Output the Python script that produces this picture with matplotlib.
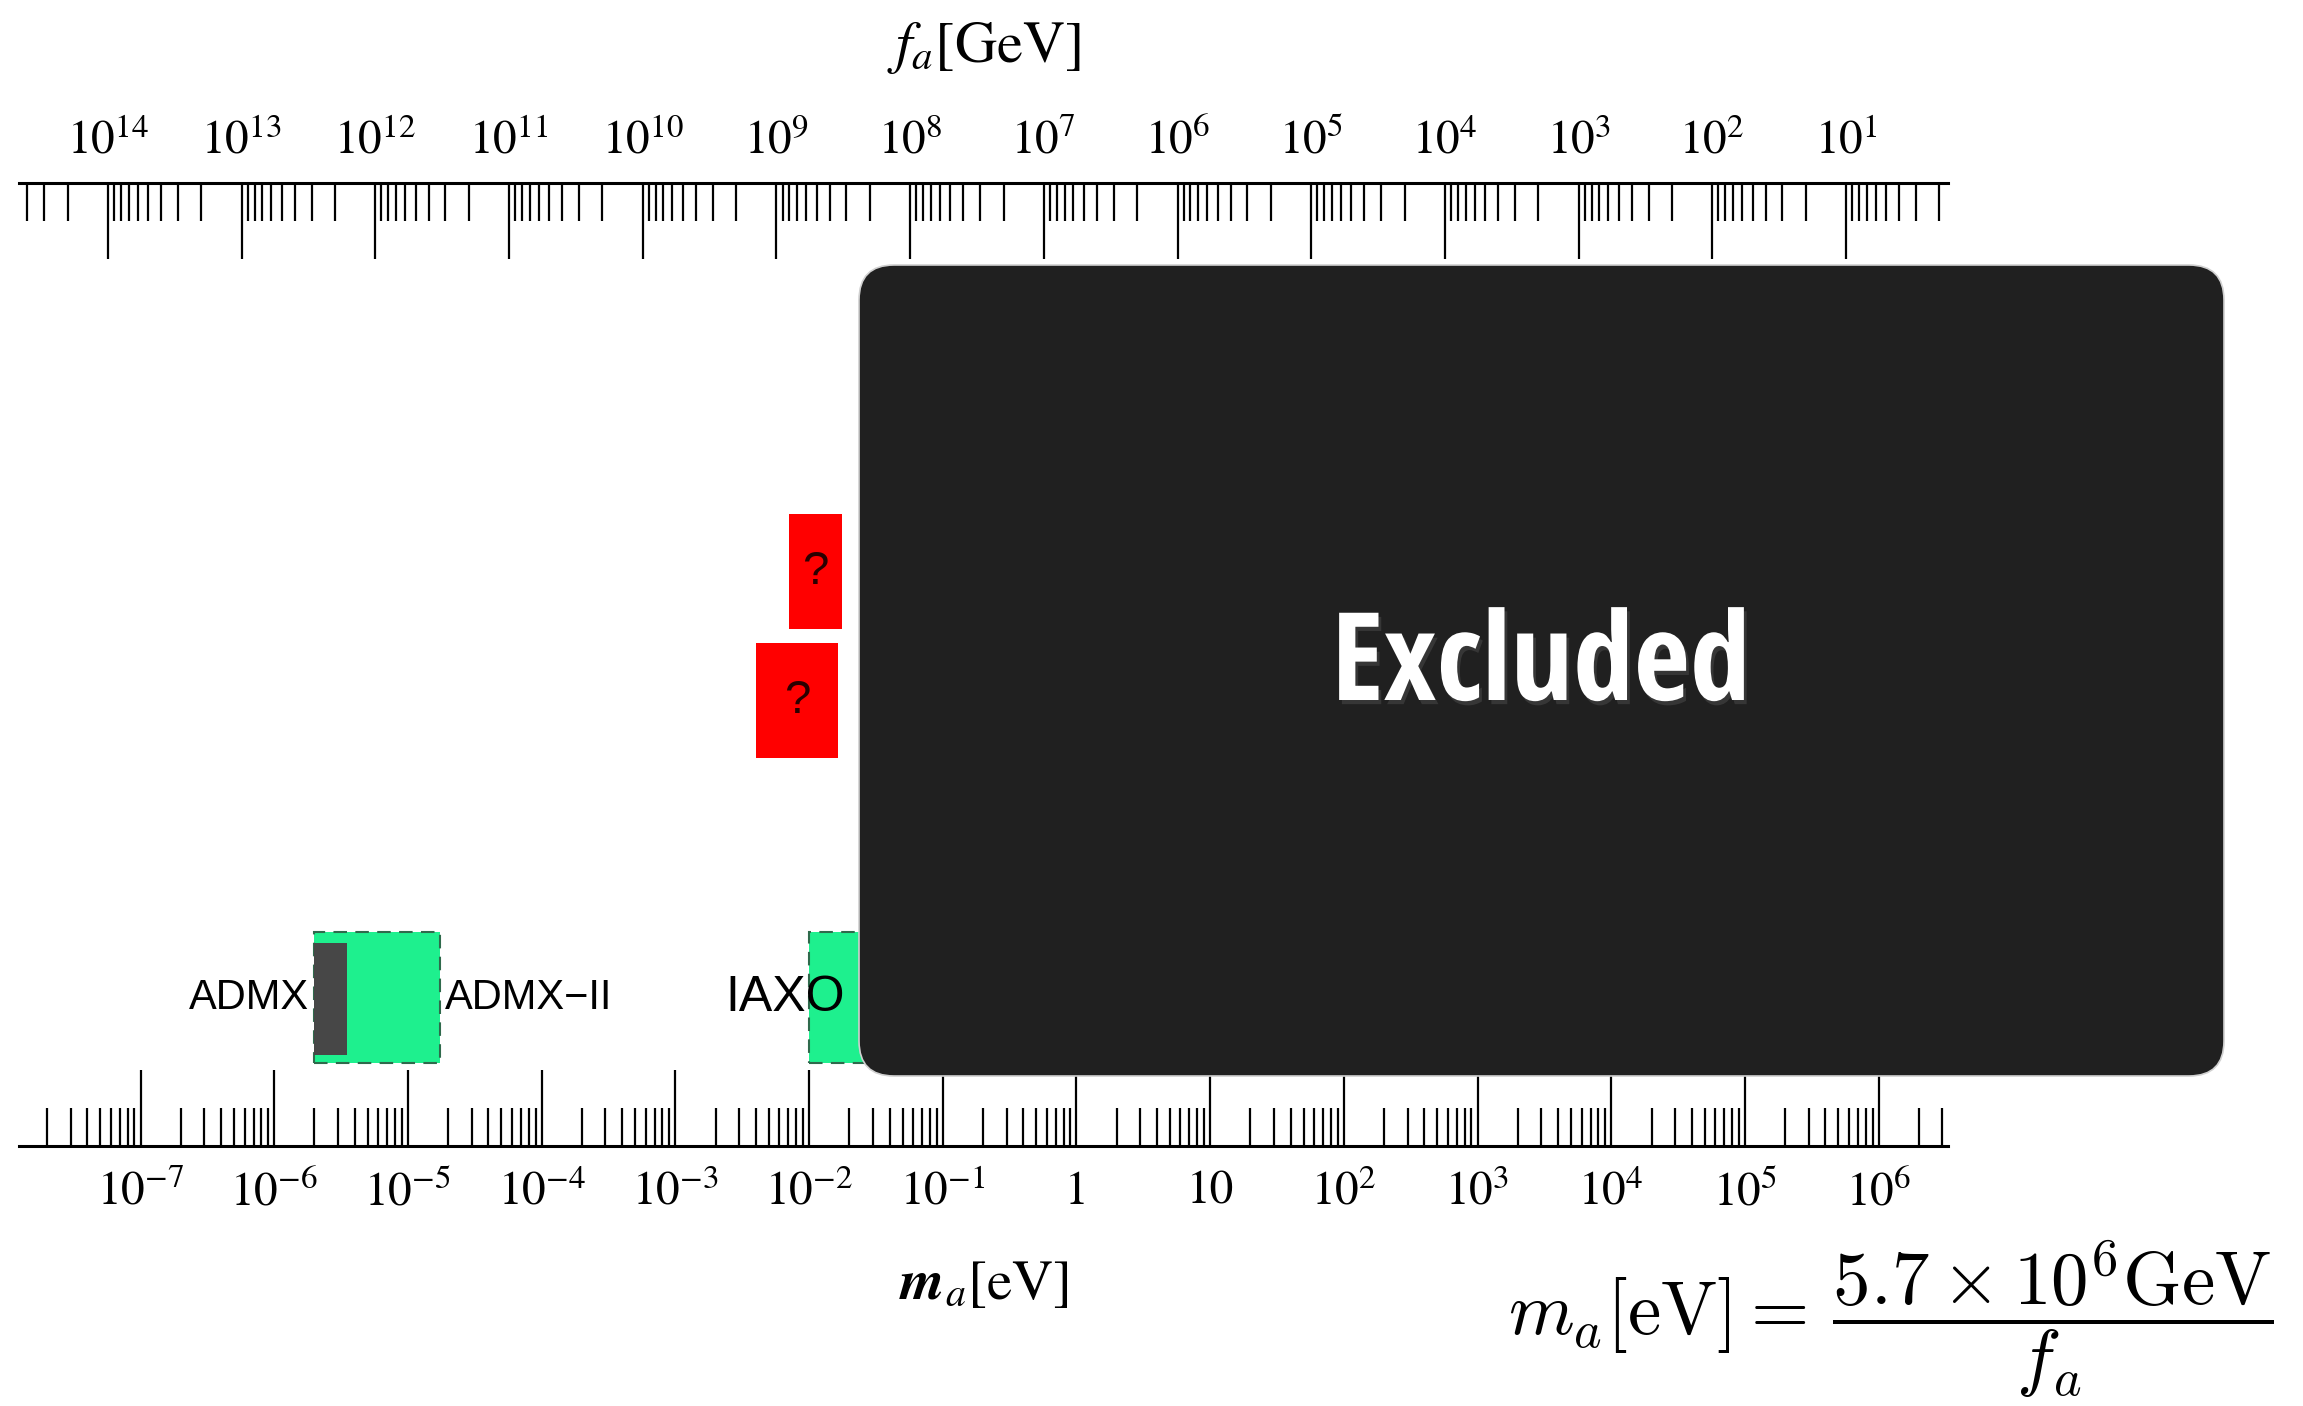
import numpy as np
import matplotlib
matplotlib.use("Agg")
import matplotlib.pyplot as plt
from matplotlib import font_manager
from matplotlib.patches import FancyBboxPatch
from matplotlib.ticker import LogLocator, FixedLocator, FixedFormatter, NullFormatter
import matplotlib.patheffects as pe

plt.rcParams['mathtext.fontset'] = 'stix'
plt.rcParams['font.family'] = 'STIXGeneral'

# m_a[eV] = 5.7e6 GeV / f_a
C = 5.7e6

m_ticks = [1e-7, 1e-6, 1e-5, 1e-4, 1e-3, 1e-2, 1e-1, 1, 10, 1e2, 1e3, 1e4, 1e5, 1e6]
m_labels = [r'$10^{-7}$', r'$10^{-6}$', r'$10^{-5}$', r'$10^{-4}$', r'$10^{-3}$',
            r'$10^{-2}$', r'$10^{-1}$', '1', '10', r'$10^{2}$', r'$10^{3}$',
            r'$10^{4}$', r'$10^{5}$', r'$10^{6}$']
f_ticks = [1e14, 1e13, 1e12, 1e11, 1e10, 1e9, 1e8, 1e7, 1e6, 1e5, 1e4, 1e3, 1e2, 1e1]
f_labels = [r'$10^{14}$', r'$10^{13}$', r'$10^{12}$', r'$10^{11}$', r'$10^{10}$',
            r'$10^{9}$', r'$10^{8}$', r'$10^{7}$', r'$10^{6}$', r'$10^{5}$',
            r'$10^{4}$', r'$10^{3}$', r'$10^{2}$', r'$10^{1}$']

# mass ranges [eV]
admx_lo, admx_hi = 1.97e-6, 3.5e-6
green_names = ['ADMX\u2212II', 'IAXO']
green_lo = [1.97e-6, 1.0e-2]
green_hi = [1.75e-5, 0.3]
red_lo = [7.1e-3, 4.0e-3]
red_hi = [1.76e-2, 1.66e-2]

# layout (axes fraction rows)
green_row = (0.086, 0.222)
admx_row = (0.0945, 0.211)
red_rows = [(0.537, 0.656), (0.403, 0.522)]
m_lim = (1.233e-8, 3.30e6)

fig = plt.figure(figsize=(23.03, 14.06), dpi=100)
ax = fig.add_axes([19 / 2303, 1 - 1146 / 1406, (1948 - 19) / 2303, (1146 - 183) / 1406])
ax.set_xscale('log')
ax.set_xlim(*m_lim)
ax.set_ylim(0, 1)
ax.set_yticks([])

# green ranges with dashed outline
for lo, hi in zip(green_lo, green_hi):
    ax.bar(lo, green_row[1] - green_row[0], width=hi - lo, bottom=green_row[0],
           align='edge', color='#1ef08e', edgecolor='#2f6a4c', linewidth=1.5,
           linestyle=(0, (6.5, 4)), zorder=2)
ax.bar(admx_lo, admx_row[1] - admx_row[0], width=admx_hi - admx_lo, bottom=admx_row[0],
       align='edge', color='#474747', linewidth=0, zorder=3)

ymid = sum(green_row) / 2
ax.annotate('ADMX', (admx_lo, ymid), xytext=(-3, 0), textcoords='offset points',
            ha='right', va='center', family='Liberation Sans', fontsize=30, zorder=4)
ax.annotate(green_names[0], (green_hi[0], ymid), xytext=(3, 0), textcoords='offset points',
            ha='left', va='center', family='Liberation Sans', fontsize=30, zorder=4)
ax.annotate(green_names[1], (green_lo[1], ymid), xytext=(26, 0), textcoords='offset points',
            ha='right', va='center', family='Liberation Sans', fontsize=36, zorder=4)

# red "?" boxes
for lo, hi, row in zip(red_lo, red_hi, red_rows):
    ax.bar(lo, row[1] - row[0], width=hi - lo, bottom=row[0], align='edge',
           color='#ff0000', linewidth=0, zorder=2)
    ax.text(np.sqrt(lo * hi), sum(row) / 2, '?', ha='center', va='center',
            family='Liberation Sans', fontsize=34, color='#2a0000', zorder=4)

# bottom axis
for s in ['left', 'right', 'top']:
    ax.spines[s].set_visible(False)
ax.spines['bottom'].set_linewidth(2.2)
ax.xaxis.set_major_locator(FixedLocator(m_ticks))
ax.xaxis.set_major_formatter(FixedFormatter(m_labels))
ax.xaxis.set_minor_locator(LogLocator(base=10, subs=np.arange(2, 10) * 1.0, numticks=100))
ax.xaxis.set_minor_formatter(NullFormatter())
ax.tick_params(axis='x', which='major', direction='in', length=55, width=1.6,
               labelsize=34, pad=18)
ax.tick_params(axis='x', which='minor', direction='in', length=27.5, width=1.6)
ax.set_xlabel(r'$\mathbfit{m}_{a}[\mathrm{eV}]$', fontsize=41, labelpad=32)

# top axis in f_a
ax2 = ax.twiny()
ax2.set_xscale('log')
ax2.set_xlim(C / m_lim[0], C / m_lim[1])
for s in ['left', 'right', 'bottom']:
    ax2.spines[s].set_visible(False)
ax2.spines['top'].set_linewidth(2.2)
ax2.xaxis.set_major_locator(FixedLocator(f_ticks))
ax2.xaxis.set_major_formatter(FixedFormatter(f_labels))
ax2.xaxis.set_minor_locator(LogLocator(base=10, subs=np.arange(2, 10) * 1.0, numticks=100))
ax2.xaxis.set_minor_formatter(NullFormatter())
ax2.tick_params(axis='x', which='major', direction='in', length=55, width=1.6,
                labelsize=34, pad=14)
ax2.tick_params(axis='x', which='minor', direction='in', length=27.5, width=1.6)
ax2.set_xlabel(r'$f_a[\mathrm{GeV}]$', fontsize=42, labelpad=41)

# "Excluded" overlay
box = FancyBboxPatch((8.59, 3.30), 13.65, 8.11, boxstyle='round,pad=0,rounding_size=0.35',
                     transform=fig.dpi_scale_trans, facecolor='#202020',
                     edgecolor='#d0d0d0', linewidth=1.2, zorder=5)
fig.add_artist(box)

names = {f.name for f in font_manager.fontManager.ttflist}
if 'Open Sans Condensed' in names:
    excl = dict(family='Open Sans Condensed', fontsize=88)
elif 'Liberation Sans Narrow' in names:
    excl = dict(family='Liberation Sans Narrow', fontsize=82)
elif 'DejaVu Sans Condensed' in names:
    excl = dict(family='DejaVu Sans Condensed', fontsize=72)
else:
    excl = dict(family='DejaVu Sans', fontstretch='condensed', fontsize=70)
fig.text(1541 / 2303, 1 - 700 / 1406, 'Excluded', ha='center', va='baseline',
         color='white', fontweight='bold', zorder=6,
         path_effects=[pe.withSimplePatchShadow(offset=(2, -3), alpha=0.5)], **excl)

# relation
fig.text(1508 / 2303, 1 - 1335 / 1406,
         r'$m_a[\mathrm{eV}] =\, \dfrac{5.7\times 10^{6}\mathrm{GeV}}{f_a}$',
         ha='left', va='baseline', fontsize=54, math_fontfamily='cm', zorder=6)

fig.savefig('out.png', dpi=100)
